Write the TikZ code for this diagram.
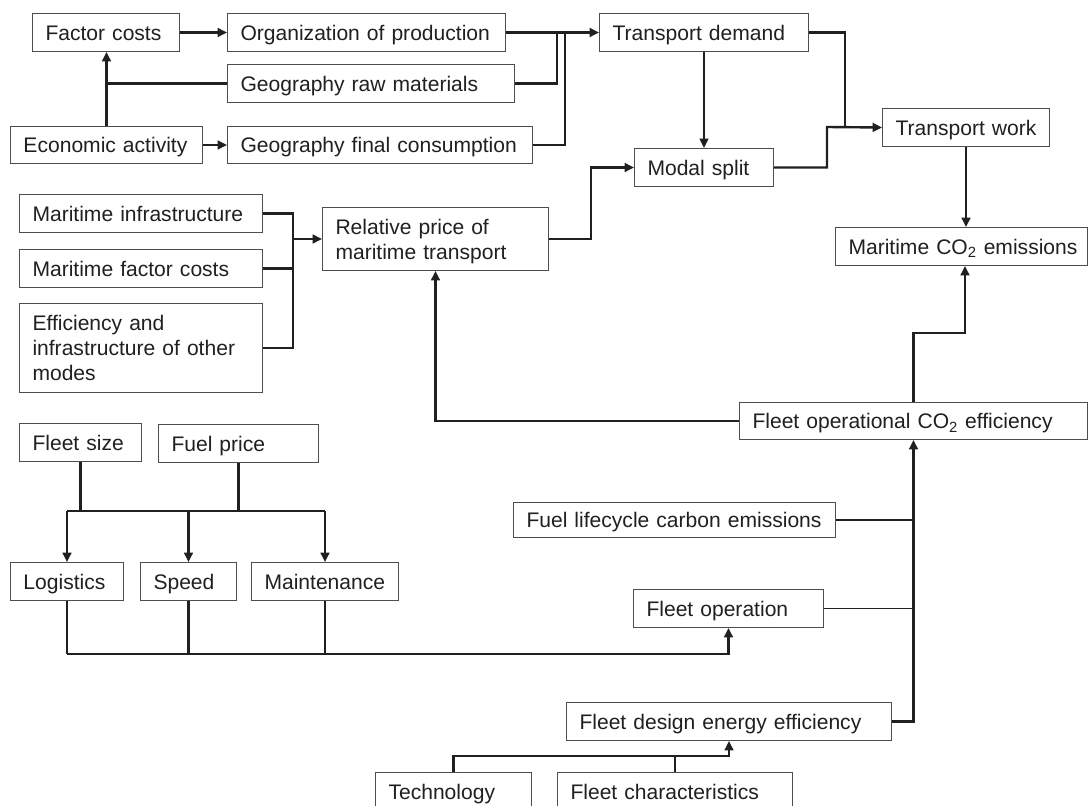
\documentclass[tikz,border=0pt]{standalone}
\usepackage{fontspec}
\setmainfont{Liberation Sans}
\usetikzlibrary{arrows.meta}
\definecolor{ink}{HTML}{231F20}
\newcommand\topstrut{\rule[-3.7pt]{0pt}{18.7pt}}
\newcommand\bx[6]{%
  \pgfmathsetlengthmacro\bxw{(#4)*0.75pt}%
  \pgfmathsetlengthmacro\bxh{(#5)*0.75pt}%
  \pgfmathsetlengthmacro\bxt{(#4-26)*0.75pt}%
  \node[box, minimum width=\bxw, minimum height=\bxh, text width=\bxt] (#1) at (#2,#3) {\topstrut#6\topstrut};}
\begin{document}
\begin{tikzpicture}[x=0.75pt,y=-0.75pt,
  box/.style={draw=ink!80, line width=0.75pt, inner xsep=9.75pt, inner ysep=0pt,
    align=left, text=ink, font=\fontsize{15.8}{18.75}\selectfont, anchor=north west},
  conn/.style={draw=ink, line width=1.8pt},
  thinconn/.style={draw=ink, line width=1.3pt},
  arr/.style={-{Triangle[length=7pt,width=6.5pt]}}]
\useasboundingbox (0,0) rectangle (1089,806);
\clip (0,0) rectangle (1089,806);
\fill[white] (0,0) rectangle (1089,806);
% boxes
\bx{fc}{32}{13}{147}{38}{\mbox{Factor costs}}
\bx{org}{227}{13}{278}{38}{\mbox{Organization of production}}
\bx{geor}{227}{64}{287}{38}{\mbox{Geography raw materials}}
\bx{eco}{10}{126}{192}{37}{\mbox{Economic activity}}
\bx{geof}{227}{126}{305}{37}{\mbox{Geography final consumption}}
\bx{td}{599}{13}{209}{38}{\mbox{Transport demand}}
\bx{ms}{634}{148}{139}{38}{\mbox{Modal split}}
\bx{tw}{882}{108}{167}{38}{\mbox{Transport work}}
\bx{mco}{835}{227}{252}{38}{\mbox{Maritime CO\textsubscript{2} emissions}}
\bx{mi}{19}{194}{243}{38}{\mbox{Maritime infrastructure}}
\bx{mfc}{19}{249}{243}{38}{\mbox{Maritime factor costs}}
\bx{eff}{19}{303}{243}{89}{\mbox{Efficiency and}\\\mbox{infrastructure of other}\\\mbox{modes}}
\bx{rp}{322}{207}{226}{63}{\mbox{Relative price of}\\\mbox{maritime transport}}
\bx{fs}{19}{423}{122}{38}{\mbox{Fleet size}}
\bx{fp}{158}{424}{160}{38}{\mbox{Fuel price}}
\bx{log}{10}{562}{113}{38}{\mbox{Logistics}}
\bx{spd}{140}{562}{96}{38}{\mbox{Speed}}
\bx{mnt}{251}{562}{147}{38}{\mbox{Maintenance}}
\bx{foce}{739}{402}{348}{37}{\mbox{Fleet operational CO\textsubscript{2} efficiency}}
\bx{flc}{513}{502}{322}{35}{\mbox{Fuel lifecycle carbon emissions}}
\bx{fo}{633}{589}{190}{38}{\mbox{Fleet operation}}
\bx{fde}{566}{702}{325}{38}{\mbox{Fleet design energy efficiency}}
\bx{tech}{375}{772}{156}{38}{\mbox{Technology}}
\bx{fch}{557}{772}{235}{38}{\mbox{Fleet characteristics}}
% junction coordinates
\coordinate (j1) at (557,32);
\coordinate (j2) at (565,32);
\coordinate (j3) at (845,127);
\coordinate (j4) at (827,127);
\coordinate (j5) at (965,333);
\coordinate (j6) at (293,239);
\coordinate (j7) at (591,238.5);
\coordinate (bus) at (0,511);
\coordinate (bus2) at (0,654);
\coordinate (bus3) at (0,756);
% connectors - top
\draw[conn,arr] (fc.east) -- (org.west);
\draw[conn,arr] (eco.north) -- (eco.north |- fc.south);
\draw[conn] (geor.west) -- (geor.west -| eco.north);
\draw[conn,arr] (eco.east) -- (geof.west);
\draw[conn,arr] (org.east) -- (td.west);
\draw[conn] (geor.east) -| (j1);
\draw[conn] (geof.east) -| (j2);
\draw[thinconn,arr] (td.south) -- (ms.north);
\draw[conn] (td.east) -| (j3);
\draw[conn,arr] (ms.east) -| (j4) -- (tw.west);
\draw[conn,arr] (tw.south) -- (tw.south |- mco.north);
\draw[conn,arr] (foce.north) |- (j5) -- (j5 |- mco.south);
% maritime inputs
\draw[conn] (mi.east) -| (eff.east -| j6) -- (eff.east);
\draw[conn] (mfc.east) -- (mfc.east -| j6);
\draw[conn,arr] (j6) -- (rp.west);
\draw[conn,arr] (rp.east) -- (rp.east -| j7) |- (ms.west);
\draw[conn,arr] (foce.west) -| (rp.south);
% fleet tree
\draw[conn] (fs.south) -- (fs.south |- bus);
\draw[conn] (fp.south) -- (fp.south |- bus);
\draw[conn] (log.north |- bus) -- (mnt.north |- bus);
\draw[conn,arr] (log.north |- bus) -- (log.north);
\draw[conn,arr] (spd.north |- bus) -- (spd.north);
\draw[conn,arr] (mnt.north |- bus) -- (mnt.north);
\draw[thinconn] (log.south) -- (log.south |- bus2);
\draw[conn] (spd.south) -- (spd.south |- bus2);
\draw[thinconn] (mnt.south) -- (mnt.south |- bus2);
\draw[conn,arr] (log.south |- bus2) -| (fo.south);
% right trunk
\draw[thinconn] (flc.east) -- (flc.east -| foce.south);
\draw[thinconn] (fo.east) -- (fo.east -| foce.south);
\draw[conn,arr] (fde.east) -| (foce.south);
\draw[conn,arr] (tech.north) |- (fde.south |- bus3) -- (fde.south);
\draw[conn] (fch.north) -- (fch.north |- bus3);
\end{tikzpicture}
\end{document}
